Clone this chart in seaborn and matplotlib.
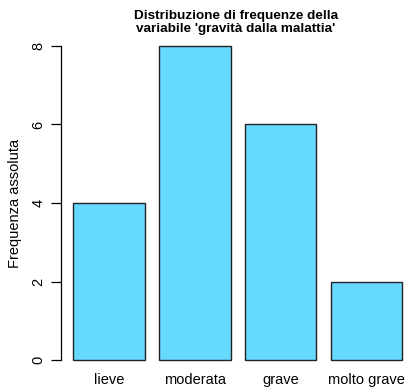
import matplotlib
matplotlib.use('Agg')
import pandas as pd
import seaborn as sns
from matplotlib import pyplot as plt

# Frequenze della variabile 'gravità dalla malattia'
categorie = ['lieve', 'moderata', 'grave', 'molto grave']
frequenze = [4, 8, 6, 2]

df = pd.DataFrame({'gravita': categorie, 'freq': frequenze})

sns.set_style('white')
plt.rcParams['font.family'] = ['Liberation Sans', 'DejaVu Sans']
plt.rcParams['text.color'] = 'black'
plt.rcParams['axes.labelcolor'] = 'black'
plt.rcParams['xtick.color'] = 'black'
plt.rcParams['ytick.color'] = 'black'

W, H = 406, 388
fig = plt.figure(figsize=(W / 100, H / 100), dpi=100)
# axes placed like the R plot region (right edge runs past the figure)
left_px, right_px, top_px, bottom_px = 61, 414, 33.4, 372.6
ax = fig.add_axes([left_px / W, 1 - bottom_px / H,
                   (right_px - left_px) / W, (bottom_px - top_px) / H])

sns.barplot(x='gravita', y='freq', data=df, order=categorie, ax=ax,
            color='#66D9FF', saturation=1, width=1 / 1.2,
            edgecolor='#222222', linewidth=1)

ax.set_xlim((left_px - 109) / 85.8, (right_px - 109) / 85.8)
ax.set_ylim(-0.32, 8.32)

for s in ['top', 'right', 'bottom']:
    ax.spines[s].set_visible(False)
ax.spines['left'].set_bounds(0, 8)
ax.spines['left'].set_color('black')
ax.spines['left'].set_linewidth(0.9)

ax.set_yticks([0, 2, 4, 6, 8])
ax.tick_params(axis='y', left=True, length=7, width=0.9, pad=4,
               labelsize=10.5, labelrotation=90)
for lab in ax.get_yticklabels():
    lab.set_va('center')
ax.tick_params(axis='x', bottom=False, length=0, pad=0.5, labelsize=10.5)

ax.set_xlabel('')
ax.set_ylabel('Frequenza assoluta', fontsize=10.5)
ax.yaxis.set_label_coords((22 - left_px) / (right_px - left_px), 0.5)

fig.text(236 / W, 1 - 22.5 / H,
         "Distribuzione di frequenze della\nvariabile 'gravità dalla malattia'",
         ha='center', va='center', fontsize=9.7, fontweight='bold',
         linespacing=1.12)

fig.savefig('out.png', dpi=100)
